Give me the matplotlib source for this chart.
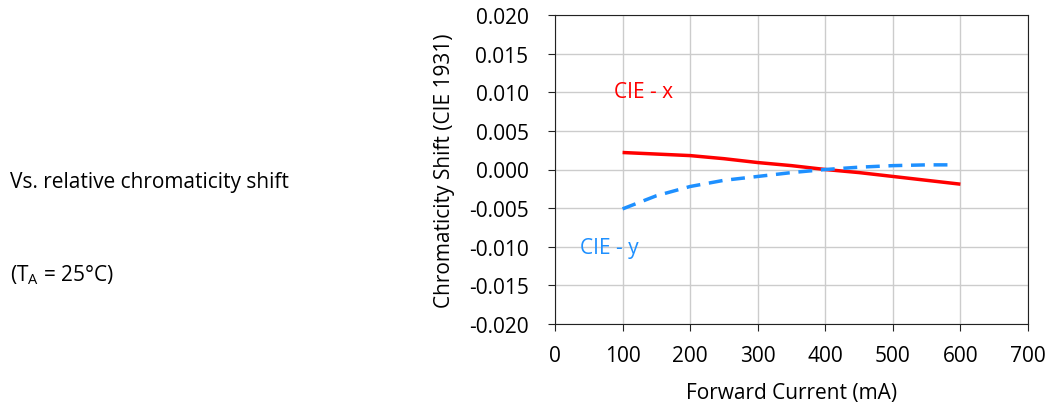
import numpy as np
import matplotlib
matplotlib.use('Agg')
import matplotlib.pyplot as plt

plt.rcParams['font.family'] = ['Open Sans', 'DejaVu Sans']

current = [100, 150, 200, 250, 300, 350, 400, 450, 500, 550, 600]
cie_x = [0.0022, 0.0020, 0.0018, 0.0014, 0.0009, 0.0005, 0.0000, -0.0004, -0.0009, -0.0014, -0.0019]
current_y = [100, 150, 200, 250, 300, 350, 400, 450, 500, 550, 590]
cie_y = [-0.0051, -0.0034, -0.0022, -0.0014, -0.0009, -0.0004, 0.0000, 0.0003, 0.0005, 0.0006, 0.0006]

x_ticks = np.arange(0, 701, 100)
y_ticks = np.arange(-0.020, 0.0201, 0.005)

fs = 15

fig = plt.figure(figsize=(10.52, 4.10), dpi=100)
ax = fig.add_axes([555 / 1052, 85 / 410, 473 / 1052, 309 / 410])

ax.plot(current, cie_x, color='#ff0000', linewidth=2.5, solid_capstyle='butt')
ax.plot(current_y, cie_y, color='#1e90ff', linewidth=2.5, linestyle=(0, (4, 2.5)))

ax.set_xlim(0, 700)
ax.set_ylim(-0.020, 0.020)
ax.set_xticks(x_ticks)
ax.set_yticks(y_ticks)
ax.set_yticklabels(['%.3f' % v for v in y_ticks])
ax.grid(True, color='#cccccc', linewidth=1)
ax.set_axisbelow(True)
ax.tick_params(labelsize=fs, length=5, color='#222222')
ax.tick_params(axis='y', pad=14)
ax.tick_params(axis='x', pad=10)
for s in ax.spines.values():
    s.set_color('#222222')

ax.set_xlabel('Forward Current (mA)', fontsize=fs, labelpad=12)
ax.set_ylabel('Chromaticity Shift (CIE 1931)', fontsize=fs, labelpad=10)

ax.text(88, 0.0101, 'CIE - x', color='#ff0000', fontsize=fs, va='center')
ax.text(37, -0.0101, 'CIE - y', color='#1e90ff', fontsize=fs, va='center')

fig.text(10 / 1052, 1 - 183 / 410, 'Vs. relative chromaticity shift', fontsize=fs, va='center')
fig.text(10 / 1052, 1 - 275 / 410, '(T$_\\mathregular{A}$ = 25°C)', fontsize=fs, va='center')

fig.savefig('out.png', dpi=100)
